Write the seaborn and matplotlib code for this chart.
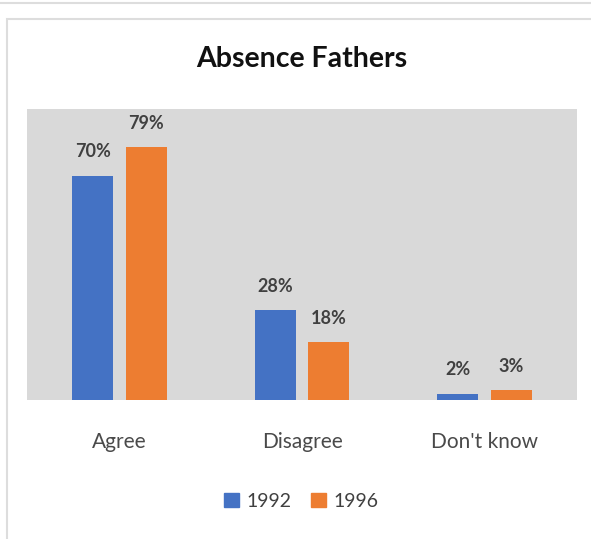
import pandas as pd
import matplotlib.pyplot as plt
import matplotlib.patches as mpatches
import seaborn as sns

# Chart data
categories = ['Agree', 'Disagree', "Don't know"]
years = ['1992', '1996']
values_1992 = [70, 28, 2]
values_1996 = [79, 18, 3]
colors = ['#4472C4', '#ED7D31']

df = pd.DataFrame({
    'Response': categories * 2,
    'Year': [years[0]] * 3 + [years[1]] * 3,
    'Percent': values_1992 + values_1996,
})

sns.set_theme(style='white')
plt.rcParams['font.family'] = ['Lato', 'DejaVu Sans']

fig = plt.figure(figsize=(5.91, 5.39), dpi=100)
ax = fig.add_axes([0.0457, 0.258, 0.9306, 0.54])
ax.set_facecolor('#D9D9D9')

sns.barplot(data=df, x='Response', y='Percent', hue='Year', order=categories,
            hue_order=years, palette=colors, width=0.59, gap=0.24,
            saturation=1, legend=False, linewidth=0, ax=ax)

# value labels above each bar
for container in ax.containers:
    for bar in container:
        h = bar.get_height()
        ax.annotate(f'{h:.0f}%', (bar.get_x() + bar.get_width() / 2, h),
                    xytext=(0, 13.5), textcoords='offset points',
                    ha='center', va='baseline', fontsize=13,
                    fontweight='bold', color='#404040')

ax.set_xlim(-0.507, 2.507)
ax.set_ylim(0, 91)
ax.set_yticks([])
ax.set_xlabel('')
ax.set_ylabel('')
for s in ax.spines.values():
    s.set_visible(False)
ax.tick_params(axis='x', length=0, pad=23, labelsize=15, labelcolor='#4a4a4a')

fig.suptitle('Absence Fathers', x=0.51, y=0.915, fontsize=20.5,
             fontweight='bold', color='#111111')

handles = [mpatches.Patch(color=c, label=y) for c, y in zip(colors, years)]
fig.legend(handles=handles, loc='center', bbox_to_anchor=(0.51, 0.07), ncol=2,
           frameon=False, fontsize=14, handlelength=0.75, handleheight=0.75,
           handletextpad=0.4, columnspacing=1.0, labelcolor='#404040')

# light frame around the chart
fig.add_artist(plt.Line2D([0, 1], [0.995, 0.995], color='#DDDDDD', lw=1.5))
fig.add_artist(mpatches.Rectangle((0.012, -0.01), 1.0, 0.995 - 0.02,
                                  fill=False, edgecolor='#DDDDDD', lw=1.5))

fig.savefig('out.png', dpi=100)
